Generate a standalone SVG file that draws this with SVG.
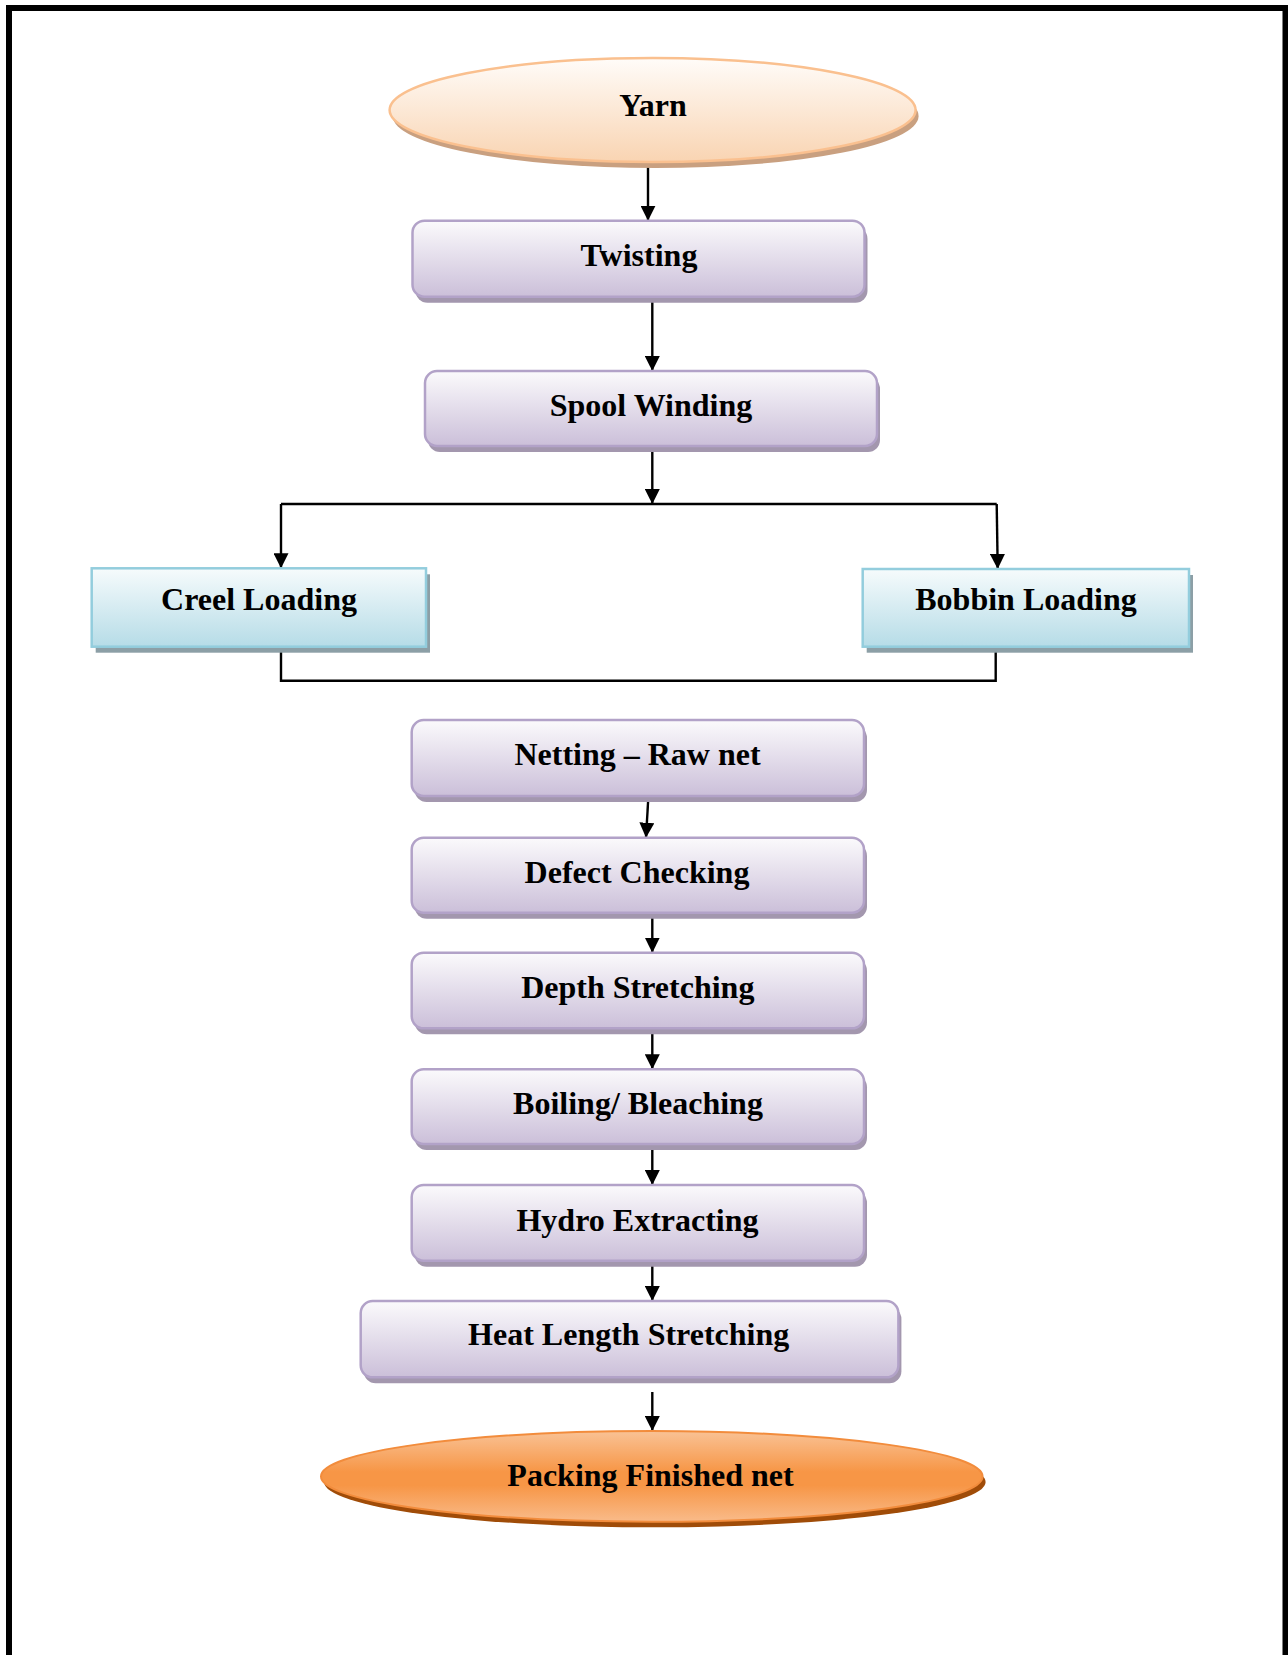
<svg xmlns="http://www.w3.org/2000/svg" width="1288" height="1655" viewBox="0 0 1288 1655">
  <defs>
    <linearGradient id="gPurple" x1="0" y1="0" x2="0" y2="1">
      <stop offset="0" stop-color="#fbfafc"/>
      <stop offset="1" stop-color="#cbbfd9"/>
    </linearGradient>
    <linearGradient id="gBlue" x1="0" y1="0" x2="0" y2="1">
      <stop offset="0" stop-color="#f6fbfc"/>
      <stop offset="1" stop-color="#b6dce7"/>
    </linearGradient>
    <linearGradient id="gPeach" x1="0" y1="0" x2="0" y2="1">
      <stop offset="0" stop-color="#fffcf9"/>
      <stop offset="1" stop-color="#f9d4b2"/>
    </linearGradient>
    <linearGradient id="gOrange" x1="0" y1="0" x2="0" y2="1">
      <stop offset="0" stop-color="#f9c295"/>
      <stop offset="0.45" stop-color="#f79646"/>
      <stop offset="0.6" stop-color="#f79646"/>
      <stop offset="1" stop-color="#f9bb8a"/>
    </linearGradient>
    <marker id="arrow" viewBox="0 0 16 16" refX="16" refY="8" markerWidth="15" markerHeight="15" markerUnits="userSpaceOnUse" orient="auto">
      <path d="M0,0 L16,8 L0,16 z" fill="#000"/>
    </marker>
  </defs>
  <style>
    .frame { fill: none; stroke: #000; stroke-width: 6; }
    .step { fill: url(#gPurple); stroke: #b2a2c8; stroke-width: 2.5; }
    .step-shadow { fill: #a397ae; }
    .load { fill: url(#gBlue); stroke: #93cddd; stroke-width: 2.5; }
    .load-shadow { fill: #8c9fa6; }
    .start { fill: url(#gPeach); stroke: #fac08f; stroke-width: 2.5; }
    .start-shadow { fill: #c9a080; }
    .end { fill: url(#gOrange); stroke: #f28c3c; stroke-width: 2; }
    .end-shadow { fill: #a04c08; }
    .label { font-family: "Liberation Serif", "Times New Roman", serif; font-weight: bold; font-size: 32px; fill: #000; text-anchor: middle; }
    .flow { fill: none; stroke: #000; stroke-width: 2.4; }
    .arr { marker-end: url(#arrow); }
  </style>

  <rect width="1288" height="1655" fill="#fff"/>
  <!-- page frame, open at the bottom edge -->
  <path class="frame" d="M9,1660 V8 H1285.5 V1660"/>

  <!-- connectors -->
  <g id="connectors">
    <path class="flow arr" d="M648,167 V220.7"/>
    <path class="flow arr" d="M652.3,298 V371"/>
    <path class="flow arr" d="M652.3,447 V504"/>
    <path class="flow" stroke-width="1.8" d="M281,504 H996.7"/>
    <path class="flow arr" d="M281,504 V568.3"/>
    <path class="flow arr" d="M996.7,504 L997.7,569"/>
    <path class="flow" stroke-width="1.8" d="M281,647 V680.7 H995.7 V647"/>
    <path class="flow arr" d="M648.3,798 L646,837.7"/>
    <path class="flow arr" d="M652.3,914 V952.7"/>
    <path class="flow arr" d="M652.3,1030 V1069.3"/>
    <path class="flow arr" d="M652.3,1146 V1185"/>
    <path class="flow arr" d="M652.3,1262 V1301"/>
    <path class="flow arr" d="M652.3,1392 V1431"/>
  </g>

  <g id="yarn">
    <ellipse class="start-shadow" cx="655.6" cy="116" rx="263" ry="52"/>
    <ellipse class="start" cx="652.6" cy="110" rx="263" ry="52"/>
    <text class="label" x="653" y="116">Yarn</text>
  </g>

  <g id="twisting">
    <rect class="step-shadow" x="415.5" y="226.7" width="452" height="76" rx="12"/>
    <rect class="step" x="412.5" y="220.7" width="452" height="76" rx="12"/>
    <text class="label" x="639" y="266">Twisting</text>
  </g>

  <g id="spool-winding">
    <rect class="step-shadow" x="428" y="377" width="452" height="75" rx="12"/>
    <rect class="step" x="425" y="371" width="452" height="75" rx="12"/>
    <text class="label" x="651" y="415.5">Spool Winding</text>
  </g>

  <g id="creel-loading">
    <rect class="load-shadow" x="95.7" y="574.3" width="334.3" height="78.4"/>
    <rect class="load" x="91.7" y="568.3" width="334.3" height="78.4"/>
    <text class="label" x="259" y="609.5">Creel Loading</text>
  </g>

  <g id="bobbin-loading">
    <rect class="load-shadow" x="866.7" y="575" width="326.3" height="77.7"/>
    <rect class="load" x="862.7" y="569" width="326.3" height="77.7"/>
    <text class="label" x="1026" y="609.5">Bobbin Loading</text>
  </g>

  <g id="netting">
    <rect class="step-shadow" x="414.7" y="726" width="452.3" height="76" rx="12"/>
    <rect class="step" x="411.7" y="720" width="452.3" height="76" rx="12"/>
    <text class="label" x="637.5" y="765">Netting – Raw net</text>
  </g>

  <g id="defect-checking">
    <rect class="step-shadow" x="414.7" y="843.7" width="452.3" height="75" rx="12"/>
    <rect class="step" x="411.7" y="837.7" width="452.3" height="75" rx="12"/>
    <text class="label" x="637" y="883.3">Defect Checking</text>
  </g>

  <g id="depth-stretching">
    <rect class="step-shadow" x="414.7" y="958.7" width="452.3" height="75.6" rx="12"/>
    <rect class="step" x="411.7" y="952.7" width="452.3" height="75.6" rx="12"/>
    <text class="label" x="637.8" y="998.3">Depth Stretching</text>
  </g>

  <g id="boiling-bleaching">
    <rect class="step-shadow" x="414.7" y="1075.3" width="452.3" height="74.7" rx="12"/>
    <rect class="step" x="411.7" y="1069.3" width="452.3" height="74.7" rx="12"/>
    <text class="label" x="638" y="1114.3">Boiling/ Bleaching</text>
  </g>

  <g id="hydro-extracting">
    <rect class="step-shadow" x="414.7" y="1191" width="452.3" height="75.7" rx="12"/>
    <rect class="step" x="411.7" y="1185" width="452.3" height="75.7" rx="12"/>
    <text class="label" x="637.5" y="1230.7">Hydro Extracting</text>
  </g>

  <g id="heat-length-stretching">
    <rect class="step-shadow" x="363.7" y="1307" width="537.7" height="76.3" rx="12"/>
    <rect class="step" x="360.7" y="1301" width="537.7" height="76.3" rx="12"/>
    <text class="label" x="628.7" y="1345">Heat Length Stretching</text>
  </g>

  <g id="packing">
    <ellipse class="end-shadow" cx="654.8" cy="1482" rx="330.8" ry="45.3"/>
    <ellipse class="end" cx="651.8" cy="1476.4" rx="330.8" ry="45.3"/>
    <text class="label" x="650.5" y="1486">Packing Finished net</text>
  </g>
</svg>
